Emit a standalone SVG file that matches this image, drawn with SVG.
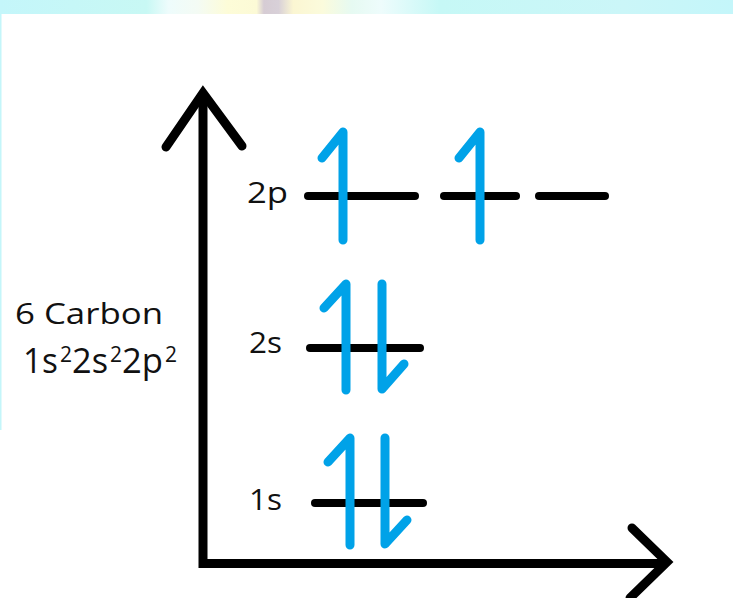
<svg xmlns="http://www.w3.org/2000/svg" width="733" height="598" viewBox="0 0 733 598">
<defs>
<linearGradient id="bg" x1="0" y1="0" x2="1" y2="0">
<stop offset="0" stop-color="#c4f6fa"/>
<stop offset="0.2" stop-color="#c8f8f4"/>
<stop offset="0.23" stop-color="#eefcfc"/>
<stop offset="0.27" stop-color="#f4fbf4"/>
<stop offset="0.31" stop-color="#fdfcd8"/>
<stop offset="0.35" stop-color="#fcfad6"/>
<stop offset="0.36" stop-color="#d6ccd4"/>
<stop offset="0.38" stop-color="#d8d0d8"/>
<stop offset="0.4" stop-color="#fbf6d2"/>
<stop offset="0.44" stop-color="#fbfbdc"/>
<stop offset="0.48" stop-color="#e6faf2"/>
<stop offset="0.52" stop-color="#eefcfc"/>
<stop offset="0.6" stop-color="#c6f8f6"/>
<stop offset="0.85" stop-color="#cbf6f8"/>
<stop offset="1" stop-color="#c4f6fa"/>
</linearGradient>
<style>
.txt{font-family:"Open Sans","Liberation Sans",sans-serif;fill:#111;font-size:30px}
.big{font-size:35px}
.sup{font-size:21px}
.lvl{stroke:#000;stroke-width:8;stroke-linecap:round;fill:none}
.e{stroke:#00a2e8;stroke-width:9;stroke-linecap:round;stroke-linejoin:round;fill:none}
.ax{stroke:#000;stroke-width:9;fill:none;stroke-linejoin:miter}
.hd{stroke:#000;stroke-width:9;fill:none;stroke-linecap:round;stroke-linejoin:miter}
</style>
</defs>
<rect x="0" y="0" width="733" height="598" fill="#ffffff"/>
<rect x="0" y="0" width="733" height="14" fill="url(#bg)"/>
<rect x="0" y="0" width="1.5" height="430" fill="#c4f6fa"/>

<g id="connectors">
<path class="ax" d="M203,94 L203,563.5 L666,563.5"/>
<path class="hd" d="M166,147 L203,93 L242,146"/>
<path class="hd" d="M632,528 L667,562 L630,598"/>
</g>

<g id="title">
<text class="txt" x="15" y="324" textLength="148" lengthAdjust="spacingAndGlyphs">6 Carbon</text>
<text class="txt big" y="373"><tspan x="23" textLength="35" lengthAdjust="spacingAndGlyphs">1s</tspan><tspan class="sup" x="60" y="362">2</tspan><tspan x="72" y="373" textLength="36" lengthAdjust="spacingAndGlyphs">2s</tspan><tspan class="sup" x="110" y="362">2</tspan><tspan x="122" y="373" textLength="41" lengthAdjust="spacingAndGlyphs">2p</tspan><tspan class="sup" x="165" y="362">2</tspan></text>
</g>

<g id="level-2p">
<text class="txt" x="247" y="203" textLength="41" lengthAdjust="spacingAndGlyphs">2p</text>
<line class="lvl" x1="308" y1="196" x2="415" y2="196"/>
<line class="lvl" x1="444" y1="196" x2="516" y2="196"/>
<line class="lvl" x1="539" y1="196" x2="605" y2="196"/>
<path class="e" d="M322,158 L343,132 L343,240"/>
<path class="e" d="M459,158 L480,132 L480,240"/>
</g>

<g id="level-2s">
<text class="txt" x="249" y="353" textLength="33" lengthAdjust="spacingAndGlyphs">2s</text>
<line class="lvl" x1="310" y1="348" x2="420" y2="348"/>
<path class="e" d="M324,308 L346,284 L346,390"/>
<path class="e" d="M382,284 L382,389 L404,364"/>
</g>

<g id="level-1s">
<text class="txt" x="249" y="510" textLength="33" lengthAdjust="spacingAndGlyphs">1s</text>
<line class="lvl" x1="315" y1="503" x2="423" y2="503"/>
<path class="e" d="M328,462 L350,438 L350,545"/>
<path class="e" d="M385,438 L385,544 L407,520"/>
</g>
</svg>
